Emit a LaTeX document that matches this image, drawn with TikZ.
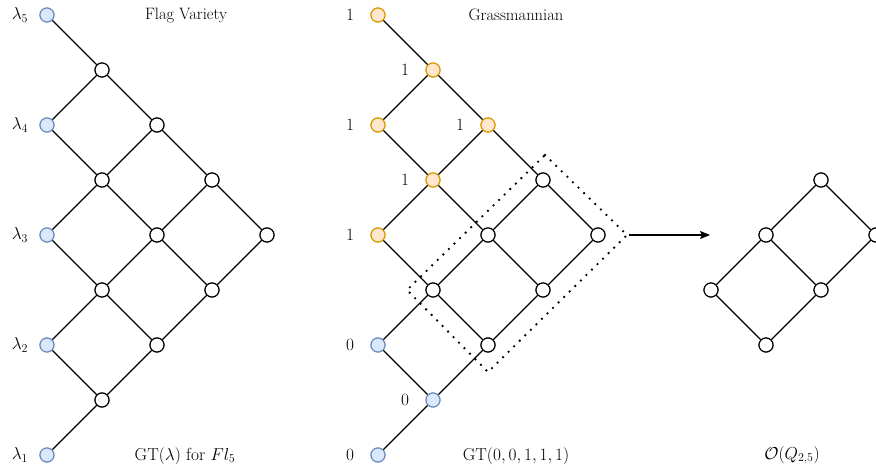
\documentclass[tikz,border=0pt]{standalone}
\usetikzlibrary{arrows.meta}
\definecolor{bfill}{HTML}{DAE8FC}
\definecolor{bdraw}{HTML}{6C8EBF}
\definecolor{ofill}{HTML}{FFE6CC}
\definecolor{odraw}{HTML}{D79B00}
\begin{document}
\begin{tikzpicture}[x=1pt,y=-1pt,
  vtx/.style={circle, draw=black, fill=white, line width=1.1pt, minimum size=14pt, inner sep=0pt},
  bvtx/.style={vtx, draw=bdraw, fill=bfill},
  ovtx/.style={vtx, draw=odraw, fill=ofill},
  edge/.style={line width=1.1pt},
  lbl/.style={inner sep=0pt, font=\fontsize{17.5}{20}\selectfont},
  ttl/.style={inner sep=0pt, font=\fontsize{16.5}{20}\selectfont},
  box/.style={line width=2.6pt, dash pattern=on 0pt off 7.8pt, line cap=round}]
\useasboundingbox (0,0) rectangle (876,470);
\clip (0,0) rectangle (876,470);

% ---- Gelfand-Tsetlin pattern for Fl_5 ----
\foreach \c/\j/\s in {0/0/bvtx,0/2/bvtx,0/4/bvtx,0/6/bvtx,0/8/bvtx,
                       1/1/vtx,1/3/vtx,1/5/vtx,1/7/vtx,
                       2/2/vtx,2/4/vtx,2/6/vtx,3/3/vtx,3/5/vtx,4/4/vtx}
  \node[\s] (L\c\j) at ({47+55*\c},{15+55*\j}) {};

% ---- pattern GT(0,0,1,1,1) ----
\foreach \c/\j/\s in {0/0/ovtx,0/2/ovtx,0/4/ovtx,0/6/bvtx,0/8/bvtx,
                       1/1/ovtx,1/3/ovtx,1/5/vtx,1/7/bvtx,
                       2/2/ovtx,2/4/vtx,2/6/vtx,3/3/vtx,3/5/vtx,4/4/vtx}
  \node[\s] (M\c\j) at ({378+55*\c},{15+55*\j}) {};

% edges of both triangular patterns
\foreach \p in {L,M}{
  \foreach \a/\b in {00/11,02/11,02/13,04/13,04/15,06/15,06/17,08/17,
                     11/22,13/22,13/24,15/24,15/26,17/26,
                     22/33,24/33,24/35,26/35,33/44,35/44}
    \draw[edge] (\p\a) -- (\p\b);
}
% redraw vertices above the edges
\foreach \c/\j/\s in {0/0/bvtx,0/2/bvtx,0/4/bvtx,0/6/bvtx,0/8/bvtx,
                       1/1/vtx,1/3/vtx,1/5/vtx,1/7/vtx,
                       2/2/vtx,2/4/vtx,2/6/vtx,3/3/vtx,3/5/vtx,4/4/vtx}
  \node[\s] at (L\c\j) {};
\foreach \c/\j/\s in {0/0/ovtx,0/2/ovtx,0/4/ovtx,0/6/bvtx,0/8/bvtx,
                       1/1/ovtx,1/3/ovtx,1/5/vtx,1/7/bvtx,
                       2/2/ovtx,2/4/vtx,2/6/vtx,3/3/vtx,3/5/vtx,4/4/vtx}
  \node[\s] at (M\c\j) {};

% ---- poset O(Q_{2,5}) ----
\node[vtx] (R1) at (821,180) {};
\node[vtx] (R2) at (766,235) {};
\node[vtx] (R3) at (876,235) {};
\node[vtx] (R4) at (711,290) {};
\node[vtx] (R5) at (821,290) {};
\node[vtx] (R6) at (766,345) {};
\foreach \a/\b in {1/2,1/3,2/4,2/5,3/5,4/6,5/6}
  \draw[edge] (R\a) -- (R\b);
\foreach \i in {1,...,6}
  \node[vtx] at (R\i) {};

% dotted frame around the free entries and the arrow
\coordinate (fT) at (545,155);
\coordinate (fR) at (627,235);
\coordinate (fB) at (488,372);
\coordinate (fL) at (407,290);
\draw[box] (fT) -- (fR) -- (fB) -- (fL) -- cycle;
\coordinate (aS) at (629,235);
\coordinate (aE) at (710,235);
\draw[line width=1.1pt, -{Stealth[length=10pt,width=8pt,inset=2pt]}] (aS) -- (aE);

% ---- labels ----
\foreach \k/\j in {5/0,4/2,3/4,2/6,1/8}
  \node[lbl] (lam\k) at (20,{15+55*\j}) {$\lambda_{\k}$};
\foreach \x/\y/\v [count=\i] in {350/15/1,405/70/1,350/125/1,460/125/1,405/180/1,350/235/1,
                                 350/345/0,405/400/0,350/455/0}
  \node[lbl] (num\i) at (\x,\y) {$\v$};

\node[ttl] (tFl) at (186,15) {Flag Variety};
\node[ttl] (tGr) at (516,15) {Grassmannian};
\node[lbl] (cFl) at (185,456) {$\mathrm{GT}(\lambda)$ for $Fl_5$};
\node[lbl] (cGr) at (516,456) {$\mathrm{GT}(0,0,1,1,1)$};
\node[lbl] (cQ) at (792,455) {$\mathcal{O}(Q_{2,5})$};
\end{tikzpicture}
\end{document}
